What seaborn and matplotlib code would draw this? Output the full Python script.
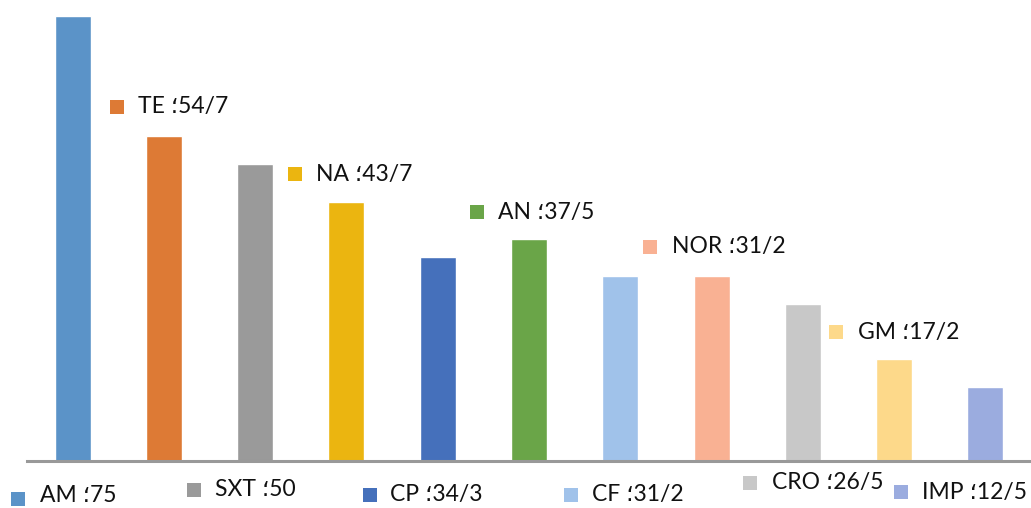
import matplotlib
matplotlib.use("Agg")
import matplotlib.pyplot as plt
import seaborn as sns
import pandas as pd
from matplotlib.patches import Rectangle

# Resistance rates per antibiotic
categories = ["AM", "TE", "SXT", "NA", "CP", "AN", "CF", "NOR", "CRO", "GM", "IMP"]
values = [75, 54.7, 50, 43.7, 34.3, 37.5, 31.2, 31.2, 26.5, 17.2, 12.5]
value_labels = ["75", "54/7", "50", "43/7", "34/3", "37/5", "31/2", "31/2", "26/5", "17/2", "12/5"]
colors = ["#5b93c8", "#dd7a35", "#9a9a9a", "#ebb510", "#4570bb", "#6aa548",
          "#a0c2ea", "#f9b193", "#c8c8c8", "#fdd98a", "#9bacdf"]

sns.set_theme(style="white")
plt.rcParams["font.family"] = ["Lato", "DejaVu Sans"]

W, H = 1031, 508
fig = plt.figure(figsize=(W / 100, H / 100), dpi=100)
ax_left, ax_right, ax_bottom, ax_top = 27, 1031, 461, 16
ax = fig.add_axes([ax_left / W, (H - ax_bottom) / H,
                   (ax_right - ax_left) / W, (ax_bottom - ax_top) / H])

df = pd.DataFrame({"cat": categories, "val": values})
sns.barplot(data=df, x="cat", y="val", hue="cat", palette=colors,
            legend=False, width=0.395, ax=ax, saturation=1)

ax.set_xlim(-0.5, 10.5)
ax.set_ylim(0, 75)
ax.set_xlabel("")
ax.set_ylabel("")
ax.set_xticks([])
ax.set_yticks([])
for s in ["top", "right", "left"]:
    ax.spines[s].set_visible(False)
ax.spines["bottom"].set_color("#999999")
ax.spines["bottom"].set_linewidth(2.2)

# Label placements (pixel coords): marker left, marker center y, text left
label_pos = {
    "AM": (11, 499, 40),
    "TE": (110, 107, 138),
    "SXT": (187, 490, 215),
    "NA": (288, 174, 316),
    "CP": (363, 495, 390),
    "AN": (470, 212, 498),
    "CF": (564, 495, 592),
    "NOR": (643, 247, 672),
    "CRO": (743, 483, 772),
    "GM": (829, 332, 858),
    "IMP": (894, 492, 922),
}

for cat, lab, col in zip(categories, value_labels, colors):
    mx, my, tx = label_pos[cat]
    sz = 14
    fig.patches.append(Rectangle((mx / W, (H - my - sz / 2) / H), sz / W, sz / H,
                                 transform=fig.transFigure, facecolor=col,
                                 edgecolor="none"))
    ty = min(my, 496)
    fig.text(tx / W, (H - ty) / H, f"{cat} \u061b{lab}", fontsize=16.5,
             color="#111111", va="center", ha="left")

fig.savefig("out.png", dpi=100)
